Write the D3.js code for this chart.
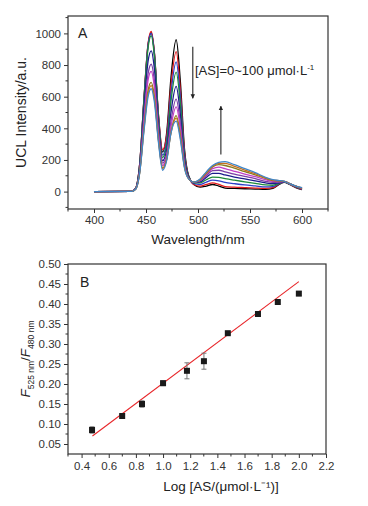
<!DOCTYPE html>
<html>
<head>
<meta charset="utf-8">
<script src="https://cdn.jsdelivr.net/npm/d3@7"></script>
<style>
  body { margin: 0; background: #fff; }
  svg { display: block; font-family: "Liberation Sans", Arial, sans-serif; }
</style>
</head>
<body>
<svg id="chart" width="368" height="506"></svg>
<script>
// ---- panel A: upconversion emission spectra ----
const wavelengths = [400, 436, 440, 444, 448, 452, 455, 458, 462, 466, 470, 474, 479, 483, 487, 491, 496, 502, 508, 514, 520, 526, 535, 545, 555, 565, 572, 578, 583, 588, 594, 600];
const spectraColors = ["#000000", "#e41a1c", "#2b3fc8", "#1e8a3a", "#1c1c8c", "#7b3fa6", "#c23fc6", "#8a7a1e", "#c8701e", "#3f86c8"];
const s0 = [0, 2, 20, 180, 580, 930, 1005, 880, 480, 250, 380, 720, 960, 700, 270, 100, 45, 28, 35, 45, 35, 22, 20, 18, 16, 14, 20, 45, 58, 45, 25, 12];
const s1 = [0, 2, 20, 180, 585, 935, 1012, 885, 485, 265, 360, 670, 885, 645, 250, 95, 45, 35, 45, 55, 45, 32, 28, 25, 22, 20, 25, 48, 60, 47, 28, 14];
const s2 = [0, 2, 19, 175, 575, 925, 1000, 875, 470, 230, 330, 620, 820, 600, 235, 95, 50, 45, 60, 72, 68, 58, 50, 42, 36, 30, 32, 50, 60, 48, 30, 16];
const s3 = [0, 2, 19, 170, 565, 910, 985, 860, 460, 215, 305, 570, 755, 555, 220, 95, 55, 55, 75, 92, 90, 82, 72, 62, 52, 42, 40, 52, 60, 48, 32, 18];
const s4 = [0, 2, 18, 155, 515, 825, 890, 780, 420, 195, 270, 500, 665, 490, 200, 90, 57, 62, 90, 115, 115, 105, 92, 80, 68, 55, 50, 56, 62, 50, 33, 19];
const s5 = [0, 2, 17, 140, 465, 745, 805, 705, 385, 180, 240, 445, 585, 435, 180, 85, 58, 67, 100, 132, 135, 125, 110, 96, 82, 65, 58, 60, 63, 50, 34, 20];
const s6 = [0, 2, 16, 135, 440, 705, 760, 665, 365, 165, 225, 410, 535, 400, 170, 83, 59, 70, 108, 145, 155, 145, 128, 110, 94, 75, 64, 63, 64, 51, 35, 21];
const s7 = [0, 2, 15, 125, 400, 640, 690, 605, 330, 150, 210, 375, 480, 360, 160, 82, 60, 74, 115, 155, 170, 165, 148, 126, 106, 83, 70, 67, 65, 51, 35, 22];
const s8 = [0, 2, 15, 122, 390, 620, 670, 590, 320, 145, 205, 370, 465, 345, 155, 81, 60, 77, 120, 160, 178, 178, 160, 136, 114, 87, 73, 69, 65, 51, 35, 23];
const s9 = [0, 2, 15, 120, 380, 600, 650, 570, 310, 135, 200, 370, 445, 330, 150, 80, 60, 80, 125, 165, 185, 190, 170, 145, 120, 90, 75, 70, 65, 50, 35, 25];
const spectra = [s0, s1, s2, s3, s4, s5, s6, s7, s8, s9];
const xTicksA = [400, 450, 500, 550, 600];
const yTicksA = [0, 200, 400, 600, 800, 1000];

// ---- panel B: ratio vs log concentration ----
const logConc = [0.477, 0.699, 0.845, 1.0, 1.176, 1.301, 1.477, 1.699, 1.845, 2.0];
const ratio = [0.085, 0.120, 0.150, 0.202, 0.233, 0.257, 0.327, 0.375, 0.405, 0.426];
const ratioErr = [0.008, 0.004, 0.008, 0.006, 0.020, 0.020, 0.003, 0.006, 0.003, 0.005];
const fitX = [0.48, 2.0];
const fitY = [0.070, 0.456];
const xTicksB = [0.4, 0.6, 0.8, 1.0, 1.2, 1.4, 1.6, 1.8, 2.0, 2.2];
const yTicksB = [0.05, 0.10, 0.15, 0.20, 0.25, 0.30, 0.35, 0.40, 0.45, 0.50];

const svg = d3.select("#chart");
const axisColor = "#333";

function frame(g, w, h) {
    g.append("rect")
        .attr("x", 0).attr("y", 0)
        .attr("width", w).attr("height", h)
        .attr("fill", "none")
        .attr("stroke", axisColor)
        .attr("stroke-width", 1.2);
}

function minorTicks(g, scale, values, horizontal, len) {
    values.forEach(v => {
        const p = scale(v);
        if (horizontal) {
            g.append("line").attr("x1", p).attr("x2", p).attr("y1", 0).attr("y2", len)
                .attr("stroke", axisColor).attr("stroke-width", 1);
        } else {
            g.append("line").attr("x1", 0).attr("x2", -len).attr("y1", p).attr("y2", p)
                .attr("stroke", axisColor).attr("stroke-width", 1);
        }
    });
}

function styleAxis(ax) {
    ax.select(".domain").remove();
    ax.selectAll(".tick line").attr("stroke", axisColor).attr("stroke-width", 1);
    ax.selectAll(".tick text").attr("fill", "#333").attr("font-size", 11.5);
}

// ===== Panel A =====
const A = { left: 68, top: 16, w: 260, h: 193 };
const xA = d3.scaleLinear().domain([375, 625]).range([0, A.w]);
const yA = d3.scaleLinear().domain([-110, 1110]).range([A.h, 0]);
const gA = svg.append("g").attr("transform", `translate(${A.left},${A.top})`);

const line = d3.line()
    .x((d, i) => xA(wavelengths[i]))
    .y(d => yA(d))
    .curve(d3.curveMonotoneX);

spectra.forEach((s, k) => {
    gA.append("path")
        .attr("d", line(s))
        .attr("fill", "none")
        .attr("stroke", spectraColors[k])
        .attr("stroke-width", 1.3);
});

frame(gA, A.w, A.h);

const axAx = gA.append("g").attr("transform", `translate(0,${A.h})`)
    .call(d3.axisBottom(xA).tickValues(xTicksA).tickSize(4).tickPadding(3));
styleAxis(axAx);
minorTicks(gA.append("g").attr("transform", `translate(0,${A.h})`), xA, [375, 425, 475, 525, 575, 625], true, 2.5);

const ayA = gA.append("g")
    .call(d3.axisLeft(yA).tickValues(yTicksA).tickSize(4).tickPadding(3).tickFormat(d3.format("d")));
styleAxis(ayA);
minorTicks(gA.append("g"), yA, [-100, 100, 300, 500, 700, 900, 1100], false, 2.5);

gA.append("text").attr("x", 10).attr("y", 22).attr("font-size", 14).attr("fill", "#222").text("A");

// arrows
const defs = svg.append("defs");
defs.append("marker").attr("id", "arr").attr("viewBox", "0 0 10 10")
    .attr("refX", 9).attr("refY", 5).attr("markerWidth", 4).attr("markerHeight", 6)
    .attr("orient", "auto-start-reverse")
    .append("path").attr("d", "M0,0 L10,5 L0,10 Z").attr("fill", "#222");

gA.append("line")
    .attr("x1", xA(495)).attr("x2", xA(495))
    .attr("y1", yA(915)).attr("y2", yA(590))
    .attr("stroke", "#222").attr("stroke-width", 1.1).attr("marker-end", "url(#arr)");
gA.append("line")
    .attr("x1", xA(522)).attr("x2", xA(522))
    .attr("y1", yA(235)).attr("y2", yA(540))
    .attr("stroke", "#222").attr("stroke-width", 1.1).attr("marker-end", "url(#arr)");

const lab = gA.append("text").attr("x", xA(497)).attr("y", yA(740))
    .attr("font-size", 13).attr("fill", "#222");
lab.append("tspan").text("[AS]=0~100 \u03bcmol\u00b7L");
lab.append("tspan").attr("dy", -5).attr("font-size", 8).text("-1");

svg.append("text")
    .attr("transform", `translate(26,${A.top + A.h / 2}) rotate(-90)`)
    .attr("text-anchor", "middle").attr("font-size", 14).attr("fill", "#222")
    .text("UCL Intensity/a.u.");
svg.append("text")
    .attr("x", A.left + A.w / 2).attr("y", 244)
    .attr("text-anchor", "middle").attr("font-size", 13.5).attr("fill", "#222")
    .text("Wavelength/nm");

// ===== Panel B =====
const B = { left: 68, top: 264, w: 258, h: 190 };
const xB = d3.scaleLinear().domain([0.3, 2.2]).range([0, B.w]);
const yB = d3.scaleLinear().domain([0.025, 0.5]).range([B.h, 0]);
const gB = svg.append("g").attr("transform", `translate(${B.left},${B.top})`);

frame(gB, B.w, B.h);

const axB = gB.append("g").attr("transform", `translate(0,${B.h})`)
    .call(d3.axisBottom(xB).tickValues(xTicksB).tickSize(4).tickPadding(4).tickFormat(d3.format(".1f")));
styleAxis(axB);
minorTicks(gB.append("g").attr("transform", `translate(0,${B.h})`), xB, [0.3, 0.5, 0.7, 0.9, 1.1, 1.3, 1.5, 1.7, 1.9, 2.1], true, 2.5);

const ayB = gB.append("g")
    .call(d3.axisLeft(yB).tickValues(yTicksB).tickSize(4).tickPadding(3).tickFormat(d3.format(".2f")));
styleAxis(ayB);
minorTicks(gB.append("g"), yB, [0.075, 0.125, 0.175, 0.225, 0.275, 0.325, 0.375, 0.425, 0.475], false, 2.5);

// fit line
gB.append("line")
    .attr("x1", xB(fitX[0])).attr("y1", yB(fitY[0]))
    .attr("x2", xB(fitX[1])).attr("y2", yB(fitY[1]))
    .attr("stroke", "#e8262a").attr("stroke-width", 1.1);

// error bars
const eb = gB.append("g").attr("stroke", "#777").attr("stroke-width", 1);
logConc.forEach((x, i) => {
    const cx = xB(x);
    const y1 = yB(ratio[i] - ratioErr[i]), y2 = yB(ratio[i] + ratioErr[i]);
    eb.append("line").attr("x1", cx).attr("x2", cx).attr("y1", y1).attr("y2", y2);
    eb.append("line").attr("x1", cx - 2.5).attr("x2", cx + 2.5).attr("y1", y1).attr("y2", y1);
    eb.append("line").attr("x1", cx - 2.5).attr("x2", cx + 2.5).attr("y1", y2).attr("y2", y2);
});

gB.selectAll("rect.pt").data(logConc).join("rect")
    .attr("class", "pt")
    .attr("x", d => xB(d) - 3).attr("y", (d, i) => yB(ratio[i]) - 3)
    .attr("width", 6).attr("height", 6)
    .attr("fill", "#1a1a1a");

gB.append("text").attr("x", 12).attr("y", 23).attr("font-size", 14).attr("fill", "#222").text("B");

svg.append("text")
    .attr("x", 221).attr("y", 491)
    .attr("text-anchor", "middle").attr("font-size", 13.5).attr("fill", "#222")
    .text("Log [AS/(\u03bcmol\u00b7L\u207b\u00b9)]");

const yl = svg.append("text")
    .attr("transform", `translate(30,${B.top + B.h / 2}) rotate(-90)`)
    .attr("text-anchor", "middle").attr("font-size", 13.5).attr("fill", "#222");
yl.append("tspan").attr("font-style", "italic").text("F");
yl.append("tspan").attr("font-size", 8.5).attr("dy", 4).text("525 nm");
yl.append("tspan").attr("dy", -4).text("/");
yl.append("tspan").attr("font-style", "italic").text("F");
yl.append("tspan").attr("font-size", 8.5).attr("dy", 4).text("480 nm");
</script>
</body>
</html>
